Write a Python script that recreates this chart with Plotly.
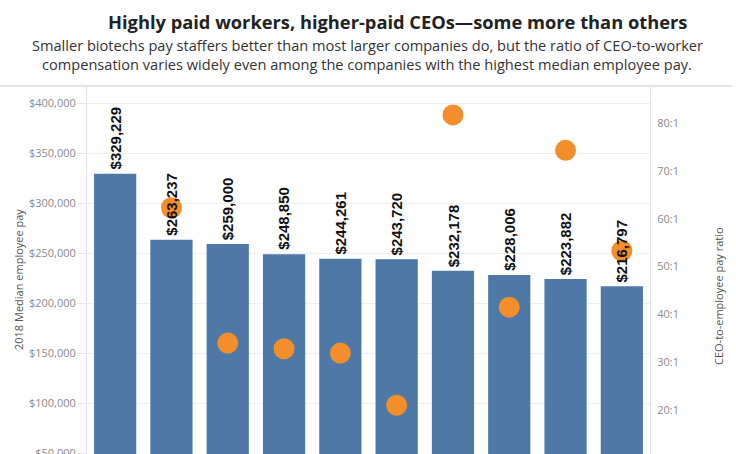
import plotly.graph_objects as go

companies = ["Co. 1", "Co. 2", "Co. 3", "Co. 4", "Co. 5",
             "Co. 6", "Co. 7", "Co. 8", "Co. 9", "Co. 10"]
median_pay = [329229, 263237, 259000, 248850, 244261,
              243720, 232178, 228006, 223882, 216797]
pay_ratio = [None, 62.3, 34.0, 32.8, 31.9, 21.0, 81.7, 41.5, 74.3, 53.3]
left_ticks = [50000, 100000, 150000, 200000, 250000, 300000, 350000, 400000]
right_ticks = [10, 20, 30, 40, 50, 60, 70, 80]

BLUE = "#4e79a7"
ORANGE = "#f28e2b"
FONT = "Open Sans"

fig = go.Figure()
fig.add_trace(go.Bar(x=companies, y=median_pay, marker=dict(color=BLUE, line=dict(width=0)),
                     hoverinfo="skip", showlegend=False))
fig.add_trace(go.Scatter(x=companies, y=pay_ratio, yaxis="y2", mode="markers",
                         marker=dict(size=21, color=ORANGE, line=dict(width=0)),
                         hoverinfo="skip", showlegend=False))

annotations = []
for c, v in zip(companies, median_pay):
    annotations.append(dict(x=c, y=v, xref="x", yref="y", text=f"<b>${v:,}</b>",
                            textangle=-90, showarrow=False, yanchor="bottom",
                            xanchor="center", yshift=2,
                            font=dict(family="Liberation Sans", size=15, color="#111")))

annotations += [
    dict(text="<b>Highly paid workers, higher-paid CEOs—some more than others</b>",
         xref="paper", yref="paper", x=(397 - 87) / 563, y=1 + (86 - 21) / 368,
         xanchor="center", yanchor="middle", showarrow=False,
         font=dict(family=FONT, size=18.3, color="#222")),
    dict(text="Smaller biotechs pay staffers better than most larger companies do, but the ratio of CEO-to-worker",
         xref="paper", yref="paper", x=(367 - 87) / 563, y=1 + (86 - 45) / 368,
         xanchor="center", yanchor="middle", showarrow=False,
         font=dict(family=FONT, size=14.6, color="#333")),
    dict(text="compensation varies widely even among the companies with the highest median employee pay.",
         xref="paper", yref="paper", x=(367 - 87) / 563, y=1 + (86 - 64) / 368,
         xanchor="center", yanchor="middle", showarrow=False,
         font=dict(family=FONT, size=14.6, color="#333")),
    dict(text="2018 Median employee pay", textangle=-90,
         xref="paper", yref="paper", x=(18 - 87) / 563, y=(454 - 280) / 368,
         xanchor="center", yanchor="middle", showarrow=False,
         font=dict(family=FONT, size=11, color="#555")),
    dict(text="CEO-to-employee pay ratio", textangle=-90,
         xref="paper", yref="paper", x=(718 - 87) / 563, y=(454 - 296) / 368,
         xanchor="center", yanchor="middle", showarrow=False,
         font=dict(family=FONT, size=11, color="#555")),
]

fig.update_layout(
    width=736, height=454,
    margin=dict(l=87, r=86, t=86, b=0, autoexpand=False),
    paper_bgcolor="white", plot_bgcolor="white",
    bargap=0.25,
    font=dict(family=FONT),
    xaxis=dict(range=[-0.5, len(companies) - 0.5], showticklabels=False, showgrid=False,
               showline=True, linecolor="#e0e0e0", fixedrange=True, automargin=False),
    yaxis=dict(range=[49000, 417000], tickvals=left_ticks,
               ticktext=[f"${t:,}" for t in left_ticks],
               tickfont=dict(family=FONT, size=11, color="#8a8a8a"),
               ticklabeloverflow="allow", automargin=False,
               showgrid=True, gridcolor="#efefef", zeroline=False,
               showline=True, linecolor="#e0e0e0", linewidth=1,
               ticks="outside", ticklen=8, tickcolor="#e8e8e8"),
    yaxis2=dict(range=[10.8, 87.75], overlaying="y", side="right",
                tickvals=right_ticks, ticktext=[f"{t}:1" for t in right_ticks],
                tickfont=dict(family=FONT, size=11, color="#8a8a8a"),
                ticklabeloverflow="allow", automargin=False,
                showgrid=False, zeroline=False,
                showline=True, linecolor="#e0e0e0", linewidth=1,
                ticks="", ticklabelstandoff=4),
    annotations=annotations,
    shapes=[dict(type="line", xref="paper", yref="paper",
                 x0=(0 - 87) / 563, x1=(732 - 87) / 563, y0=1, y1=1,
                 line=dict(color="#e4e4e4", width=2))],
)

fig.write_html("out.html")
